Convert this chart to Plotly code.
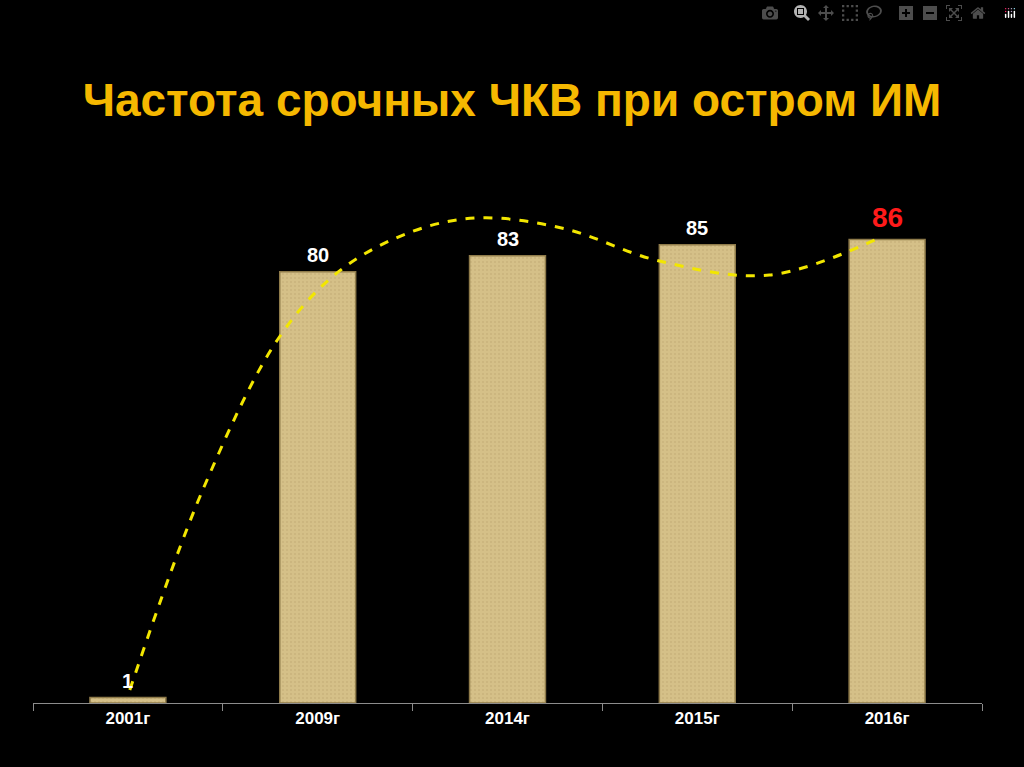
import plotly.graph_objects as go

categories = ["2001г", "2009г", "2014г", "2015г", "2016г"]
values = [1, 80, 83, 85, 86]
trend_x = [0.01, 0.4, 0.8, 1.12, 1.5, 1.85, 2.3, 2.8, 3.38, 3.96]
trend_y = [2.4, 40, 68, 80.3, 87.5, 90, 88, 82, 79.4, 86.3]

pos = list(range(len(categories)))
fig = go.Figure()
fig.add_bar(x=pos, y=values, width=0.4,
            marker=dict(color="#d5c088", line=dict(color="#8f7b4a", width=1.5),
                        pattern=dict(shape=".", fgcolor="#bba66e", size=4, solidity=0.2)),
            hoverinfo="skip")
fig.add_scatter(x=trend_x, y=trend_y, mode="lines",
                line=dict(color="#f2e600", width=3, dash="dash", shape="spline"))
for i, v in enumerate(values):
    last = i == len(values) - 1
    fig.add_annotation(x=i, y=v, text=str(v), showarrow=False, yanchor="bottom", yshift=4,
                       font=dict(color="#ff1a1a" if last else "white", size=28 if last else 20,
                                 family="Liberation Sans, Arial", weight="bold"))
fig.update_layout(
    width=1024, height=767, paper_bgcolor="black", plot_bgcolor="black",
    margin=dict(l=33, r=42, t=164, b=64), showlegend=False,
    title=dict(text="Частота срочных ЧКВ при остром ИМ", x=0.5, xanchor="center", y=0.87, yanchor="middle",
               font=dict(color="#f5b800", size=46, family="Liberation Sans, Arial", weight="bold")),
    xaxis=dict(range=[-0.5, 4.5], tickvals=pos, ticktext=categories, ticks="", showgrid=False,
               showline=True, linecolor="#8c8c8c", linewidth=1, zeroline=False,
               tickfont=dict(color="white", size=17, family="Liberation Sans, Arial", weight="bold"),
               minor=dict(tickvals=[-0.5, 0.5, 1.5, 2.5, 3.5, 4.5], ticks="outside", ticklen=7,
                          tickcolor="#8c8c8c", showgrid=False)),
    yaxis=dict(range=[0, 100], visible=False),
)
fig.write_html("out.html",
               post_script="document.body.style.margin='0';document.body.style.background='black';")
